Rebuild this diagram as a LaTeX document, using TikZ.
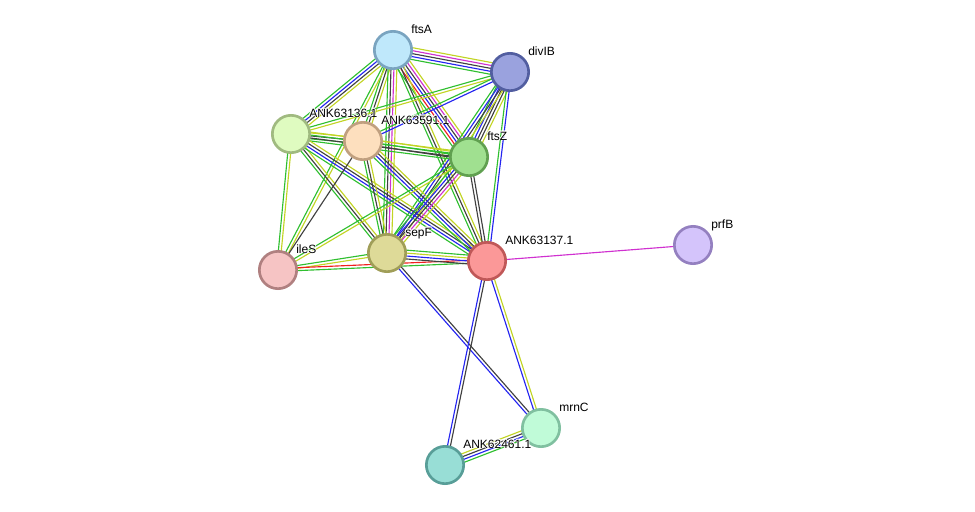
\documentclass[tikz,border=0pt]{standalone}
\usepackage{fontspec}
\setmainfont{Liberation Sans}
\usetikzlibrary{calc,backgrounds}
\definecolor{eG}{HTML}{2FBF2F}
\definecolor{eR}{HTML}{F02020}
\definecolor{eB}{HTML}{2424F0}
\definecolor{eK}{HTML}{404040}
\definecolor{eM}{HTML}{D030D0}
\definecolor{eY}{HTML}{C2D424}
\tikzset{
  prot/.style={circle, minimum size=28pt, inner sep=0pt, line width=2pt},
  lab/.style={anchor=base west, inner sep=0pt, font=\fontsize{9}{10}\selectfont},
}
\newcommand\edg[3]{%
  \def\nn{0}%
  \foreach \c in {#3}{\xdef\nn{\the\numexpr\nn+1\relax}}%
  \foreach \c [count=\i] in {#3}{%
    \pgfmathsetmacro\off{(\i-(\nn+1)/2)*2.2}%
    \draw[\c, line width=0.85pt] ($(#1)!\off pt!90:(#2)$) -- ($(#2)!\off pt!-90:(#1)$);
  }}
\newcommand\lbl[3]{%
  \foreach \dx/\dy in {-0.6/0,0.6/0,0/-0.6,0/0.6,-0.45/-0.45,0.45/0.45,-0.45/0.45,0.45/-0.45}
    \node[lab, text=white, xshift=\dx pt, yshift=\dy pt] at ($(#1)+(18,-17)$) {#3};
  \node[lab] (#2) at ($(#1)+(18,-17)$) {#3};}
\begin{document}
\begin{tikzpicture}[x=0.75pt, y=-0.75pt]
\useasboundingbox (0,0) rectangle (975,511);
\node[prot, fill={rgb,255:red,191;green,232;blue,251}, draw={rgb,255:red,122;green,164;blue,192}] (ftsA) at (393,50) {};
\node[prot, fill={rgb,255:red,154;green,162;blue,222}, draw={rgb,255:red,82;green,94;blue,160}] (divIB) at (510,72) {};
\node[prot, fill={rgb,255:red,223;green,251;blue,192}, draw={rgb,255:red,160;green,186;blue,128}] (a36) at (291,134) {};
\node[prot, fill={rgb,255:red,253;green,223;blue,190}, draw={rgb,255:red,192;green,160;blue,128}] (a91) at (363,141) {};
\node[prot, fill={rgb,255:red,160;green,224;blue,144}, draw={rgb,255:red,96;green,160;blue,80}] (ftsZ) at (469,157) {};
\node[prot, fill={rgb,255:red,246;green,196;blue,196}, draw={rgb,255:red,176;green,128;blue,128}] (ileS) at (278,270) {};
\node[prot, fill={rgb,255:red,222;green,218;blue,152}, draw={rgb,255:red,160;green,158;blue,88}] (sepF) at (387,253) {};
\node[prot, fill={rgb,255:red,251;green,152;blue,152}, draw={rgb,255:red,192;green,88;blue,88}] (a37) at (487,261) {};
\node[prot, fill={rgb,255:red,212;green,196;blue,251}, draw={rgb,255:red,148;green,128;blue,192}] (prfB) at (693,245) {};
\node[prot, fill={rgb,255:red,192;green,251;blue,216}, draw={rgb,255:red,128;green,192;blue,160}] (mrnC) at (541,428) {};
\node[prot, fill={rgb,255:red,152;green,222;blue,214}, draw={rgb,255:red,88;green,158;blue,152}] (a61) at (445,465) {};
\begin{pgfonlayer}{background}
\edg{ftsA}{divIB}{eG,eB,eK,eM,eY}
\edg{ftsA}{a36}{eG,eB,eK,eY}
\edg{ftsA}{a91}{eG,eK,eY}
\edg{ftsA}{ftsZ}{eG,eR,eB,eK,eM,eY}
\edg{ftsA}{sepF}{eG,eK,eM,eY}
\edg{ftsA}{ileS}{eG,eY}
\edg{ftsA}{a37}{eG,eK,eY}
\edg{divIB}{a36}{eG,eY}
\edg{divIB}{a91}{eG,eB}
\edg{divIB}{ftsZ}{eG,eB,eK,eK,eY}
\edg{divIB}{sepF}{eG,eB,eK,eY}
\edg{divIB}{a37}{eG,eB}
\edg{a36}{a91}{eG,eK,eY}
\edg{a36}{ftsZ}{eG,eK,eG,eY}
\edg{a36}{ileS}{eG,eY}
\edg{a36}{sepF}{eG,eK,eY}
\edg{a36}{a37}{eG,eB,eK,eY}
\edg{a91}{ftsZ}{eK,eG,eY}
\edg{a91}{ileS}{eK}
\edg{a91}{sepF}{eG,eK,eY}
\edg{a91}{a37}{eG,eB,eK,eY}
\edg{ftsZ}{sepF}{eG,eB,eK,eM,eY}
\edg{ftsZ}{ileS}{eG,eY}
\edg{ftsZ}{a37}{eK,eK}
\edg{sepF}{ileS}{eG,eY}
\edg{ileS}{a37}{eG,eR}
\edg{sepF}{a37}{eK,eB,eY,eG}
\edg{sepF}{mrnC}{eB,eK}
\edg{a37}{prfB}{eM}
\edg{a37}{mrnC}{eB,eY}
\edg{a37}{a61}{eB,eK}
\edg{mrnC}{a61}{eY,eK,eB,eG}
\end{pgfonlayer}
\lbl{ftsA}{lftsA}{ftsA}
\lbl{divIB}{ldivIB}{divIB}
\lbl{a36}{la36}{ANK63136.1}
\lbl{a91}{la91}{ANK63591.1}
\lbl{ftsZ}{lftsZ}{ftsZ}
\lbl{ileS}{lileS}{ileS}
\lbl{sepF}{lsepF}{sepF}
\lbl{a37}{la37}{ANK63137.1}
\lbl{prfB}{lprfB}{prfB}
\lbl{mrnC}{lmrnC}{mrnC}
\lbl{a61}{la61}{ANK62461.1}
\end{tikzpicture}
\end{document}
